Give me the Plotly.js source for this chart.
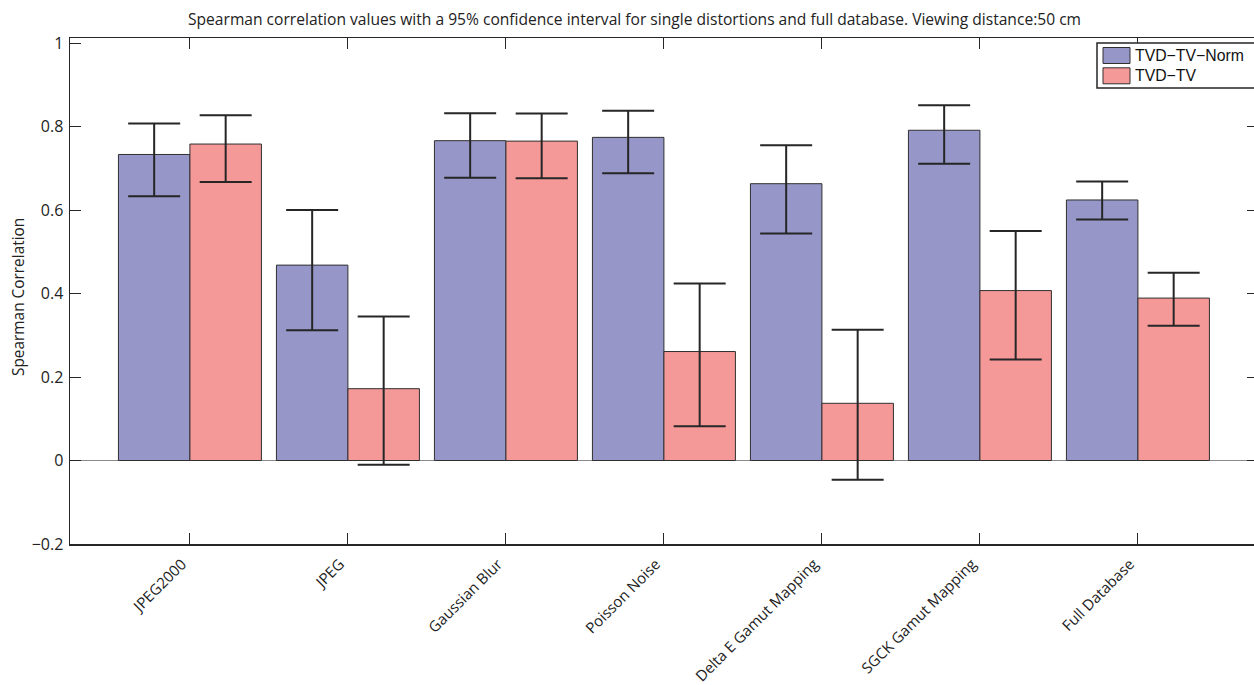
<!DOCTYPE html>
<html>
<head>
<meta charset="utf-8">
<script src="https://cdn.plot.ly/plotly-3.0.1.min.js"></script>
<style>
  html, body { margin: 0; padding: 0; overflow: hidden; background: #fff; }
  #chart { width: 1258px; height: 685px; }
</style>
</head>
<body>
<div id="chart"></div>
<script>
// Distortion categories
const categories = ['JPEG2000', 'JPEG', 'Gaussian Blur', 'Poisson Noise',
                    'Delta E Gamut Mapping', 'SGCK Gamut Mapping', 'Full Database'];

// Series names
const seriesNames = ['TVD\u2212TV\u2212Norm', 'TVD\u2212TV'];

// Spearman correlation values
const normValues = [0.733, 0.468, 0.766, 0.774, 0.663, 0.791, 0.624];
const tvValues   = [0.758, 0.172, 0.765, 0.261, 0.137, 0.407, 0.389];

// 95% confidence interval bounds
const normUpper = [0.807, 0.600, 0.832, 0.838, 0.755, 0.851, 0.668];
const normLower = [0.633, 0.312, 0.677, 0.688, 0.544, 0.711, 0.577];
const tvUpper   = [0.827, 0.345, 0.831, 0.424, 0.313, 0.550, 0.450];
const tvLower   = [0.667, -0.010, 0.676, 0.082, -0.046, 0.242, 0.323];

// Y tick labels
const yTickVals = [-0.2, 0, 0.2, 0.4, 0.6, 0.8, 1];
const yTickText = ['\u22120.2', '0', '0.2', '0.4', '0.6', '0.8', '1'];

const colors = ['#9696c8', '#f59898'];

function errPlus(vals, up) { return vals.map((v, i) => up[i] - v); }
function errMinus(vals, lo) { return vals.map((v, i) => v - lo[i]); }

const errStyle = { type: 'data', symmetric: false, color: '#262626', thickness: 2, width: 26 };

const traces = [
  {
    type: 'bar', name: seriesNames[0], x: categories, y: normValues,
    marker: { color: colors[0], line: { color: '#303030', width: 1 } },
    error_y: Object.assign({ array: errPlus(normValues, normUpper), arrayminus: errMinus(normValues, normLower) }, errStyle),
    showlegend: false, hoverinfo: 'x+y'
  },
  {
    type: 'bar', name: seriesNames[1], x: categories, y: tvValues,
    marker: { color: colors[1], line: { color: '#303030', width: 1 } },
    error_y: Object.assign({ array: errPlus(tvValues, tvUpper), arrayminus: errMinus(tvValues, tvLower) }, errStyle),
    showlegend: false, hoverinfo: 'x+y'
  }
];

const W = 1258, H = 685;
const mL = 70, mR = 0, mT = 38, mB = 141;
const pw = W - mL - mR, ph = H - mT - mB;
// paper coordinate helpers
const px = v => (v - mL) / pw;
const py = v => (H - mB - v) / ph;

const FONT = 'Open Sans, sans-serif';

// Legend box drawn with shapes and annotations
const shapes = [
  { type: 'rect', xref: 'paper', yref: 'paper', x0: px(1097), x1: px(1270), y0: py(88), y1: py(43),
    line: { color: '#262626', width: 1.5 }, fillcolor: '#ffffff', layer: 'above' }
];
const annotations = [
  { text: 'Spearman correlation values with a 95% confidence interval for single distortions and full database. Viewing distance:50 cm',
    xref: 'paper', yref: 'paper', x: px(634), y: py(19), xanchor: 'center', yanchor: 'middle',
    showarrow: false, font: { family: FONT, size: 15.6, color: '#222' } },
  { text: 'Spearman Correlation', textangle: -90,
    xref: 'paper', yref: 'paper', x: px(19), y: py(297), xanchor: 'center', yanchor: 'middle',
    showarrow: false, font: { family: FONT, size: 15.4, color: '#222' } }
];
seriesNames.forEach((name, i) => {
  const top = 47.5 + i * 20.3;
  shapes.push({ type: 'rect', xref: 'paper', yref: 'paper', x0: px(1103), x1: px(1130), y0: py(top + 16), y1: py(top),
    line: { color: '#303030', width: 1 }, fillcolor: colors[i], layer: 'above' });
  annotations.push({ text: name, xref: 'paper', yref: 'paper', x: px(1133), y: py(top + 8),
    xanchor: 'left', yanchor: 'middle', showarrow: false,
    font: { family: 'Liberation Sans, Arial, sans-serif', size: 15.8, color: '#111' } });
});

const layout = {
  width: W, height: H,
  margin: { l: mL, r: mR, t: mT, b: mB, pad: 0 },
  paper_bgcolor: '#fff', plot_bgcolor: '#fff',
  barmode: 'group', bargap: 0.095, bargroupgap: 0,
  font: { family: FONT, size: 16, color: '#222' },
  xaxis: {
    type: 'category', range: [-0.759, -0.759 + pw / 158],
    tickangle: -45, ticks: 'inside', ticklen: 11, tickwidth: 1, tickcolor: '#262626',
    showline: true, linecolor: '#262626', linewidth: 1.5, mirror: 'ticks',
    showgrid: false, zeroline: false, ticklabelstandoff: 4, ticklabelshift: -8,
    tickfont: { family: FONT, size: 15, color: '#222' }
  },
  yaxis: {
    range: [-0.2, -0.2 + ph / 417.5],
    tickvals: yTickVals,
    ticktext: yTickText,
    ticks: 'inside', ticklen: 11, tickwidth: 1, tickcolor: '#262626',
    showline: true, linecolor: '#262626', linewidth: 1.5, mirror: 'ticks',
    showgrid: false, zeroline: true, zerolinecolor: '#8a8a8a', zerolinewidth: 1.5,
    ticklabelstandoff: 2,
    tickfont: { family: FONT, size: 16, color: '#222' }
  },
  shapes: shapes,
  annotations: annotations
};

Plotly.newPlot('chart', traces, layout, { displayModeBar: false, staticPlot: true });
</script>
</body>
</html>
